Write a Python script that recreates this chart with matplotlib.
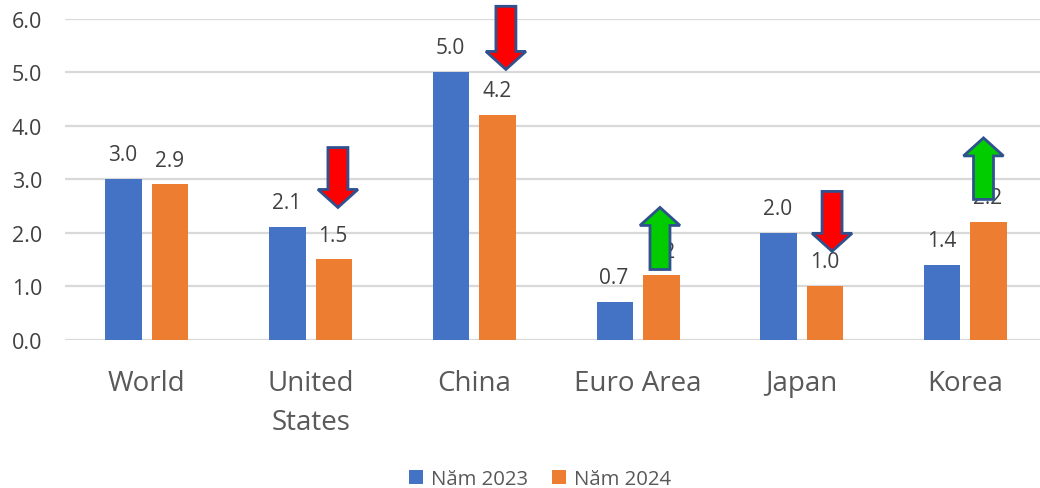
import matplotlib
matplotlib.use("Agg")
import matplotlib.pyplot as plt
import numpy as np

plt.rcParams['font.family'] = ['Open Sans', 'Noto Sans', 'DejaVu Sans']

categories = ["World", "United\nStates", "China", "Euro Area", "Japan", "Korea"]
series_2023 = [3.0, 2.1, 5.0, 0.7, 2.0, 1.4]
series_2024 = [2.9, 1.5, 4.2, 1.2, 1.0, 2.2]
y_ticks = [0, 1, 2, 3, 4, 5, 6]

# Annotation arrows: category position, tail value, tip value, fill colour
arrow_x = [1.167, 2.193, 3.134, 4.185, 5.11]
arrow_tail = [3.59, 6.23, 1.31, 2.77, 2.62]
arrow_tip = [2.47, 5.05, 2.47, 1.65, 3.77]
arrow_fill = ["#FF0000", "#FF0000", "#00CC00", "#FF0000", "#00CC00"]

W, H = 1040, 489
fig = plt.figure(figsize=(W / 100, H / 100), dpi=100, facecolor="white")
ax = fig.add_axes([65 / W, (H - 340.6) / H, (W - 65) / W, 321 / H])
ax.set_xlim(-0.5, (W - 147) / 163.7)
ax.set_ylim(0, 6)

x = np.arange(len(categories))
bar_w = 0.223
off = 0.142
b1 = ax.bar(x - off, series_2023, bar_w, color="#4472C4", label="Năm 2023", zorder=3)
b2 = ax.bar(x + off, series_2024, bar_w, color="#ED7D31", label="Năm 2024", zorder=3)

for xs, vals in ((x - off, series_2023), (x + off, series_2024)):
    for xi, v in zip(xs, vals):
        ax.annotate(f"{v:.1f}", (xi, v), xytext=(-0.5, 17.5), textcoords="offset points",
                    ha="center", va="center", fontsize=15, color="#404040", zorder=4)

# Arrows sized in pixels, anchored at data coordinates
px_per_x = 163.7
px_per_y = 321 / 6
for ax_x, tail, tip, col in zip(arrow_x, arrow_tail, arrow_tip, arrow_fill):
    s = 1 if tip > tail else -1
    hw = 20 / px_per_x
    sw = 10 / px_per_x
    hl = 18 / px_per_y * s
    neck = tip - hl
    xs = [ax_x - sw, ax_x + sw, ax_x + sw, ax_x + hw, ax_x, ax_x - hw, ax_x - sw]
    ys = [tail, tail, neck, neck, tip, neck, neck]
    ax.fill(xs, ys, facecolor=col, edgecolor="#2F528F", linewidth=2.0,
            joinstyle="miter", clip_on=False, zorder=5)

ax.set_yticks(y_ticks)
ax.set_yticklabels([f"{t:.1f}" for t in y_ticks], fontsize=15.5, color="#404040")
ax.set_xticks(x)
ax.set_xticklabels(categories, fontsize=20, color="#595959", linespacing=1.5)
ax.tick_params(axis="both", length=0)
ax.tick_params(axis="y", pad=16.5)
ax.tick_params(axis="x", pad=21.5)
ax.yaxis.grid(True, color="#D9D9D9", linewidth=1.6, zorder=0)
ax.set_axisbelow(True)
for s in ax.spines.values():
    s.set_visible(False)

fig.legend(handles=[b1, b2], loc="center", bbox_to_anchor=(540 / W, 1 - 480.5 / H), ncol=2,
           frameon=False, fontsize=14.7, labelcolor="#595959", handlelength=0.68,
           handleheight=0.68, handletextpad=0.4, columnspacing=1.15)

fig.savefig("out.png", dpi=100, facecolor="white")
